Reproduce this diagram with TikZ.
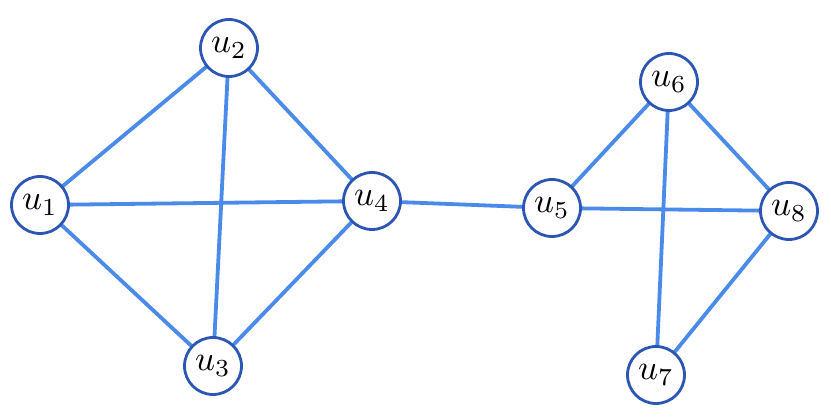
\documentclass[tikz,border=0pt]{standalone}
\usepackage{graphicx}
\usetikzlibrary{backgrounds}
\definecolor{edgeblue}{HTML}{4A8BEA}
\definecolor{ringblue}{HTML}{2C56B4}
\newcommand{\vlab}[1]{\scalebox{3.5}{$u_{#1}$}}
\tikzset{
  vtx/.style={circle, draw=ringblue, line width=2.8pt, fill=white, minimum size=57pt, inner sep=0pt},
  edg/.style={draw=edgeblue, line width=3.8pt}
}
\begin{document}
\begin{tikzpicture}[x=1pt,y=1pt]
\useasboundingbox (0,0) rectangle (831,420);
\node[vtx] (u1) at (40,215) {\vlab{1}};
\node[vtx] (u2) at (229,372) {\vlab{2}};
\node[vtx] (u3) at (213,54) {\vlab{3}};
\node[vtx] (u4) at (372,219) {\vlab{4}};
\node[vtx] (u5) at (552,212) {\vlab{5}};
\node[vtx] (u6) at (669,338) {\vlab{6}};
\node[vtx] (u7) at (656,45) {\vlab{7}};
\node[vtx] (u8) at (789,209) {\vlab{8}};
\begin{pgfonlayer}{background}
\path[edg] (u1.center) -- (u2.center) (u1.center) -- (u4.center) (u1.center) -- (u3.center)
  (u2.center) -- (u3.center) (u2.center) -- (u4.center) (u3.center) -- (u4.center)
  (u4.center) -- (u5.center) (u5.center) -- (u6.center) (u5.center) -- (u8.center)
  (u6.center) -- (u7.center) (u6.center) -- (u8.center) (u7.center) -- (u8.center);
\end{pgfonlayer}
\end{tikzpicture}
\end{document}
